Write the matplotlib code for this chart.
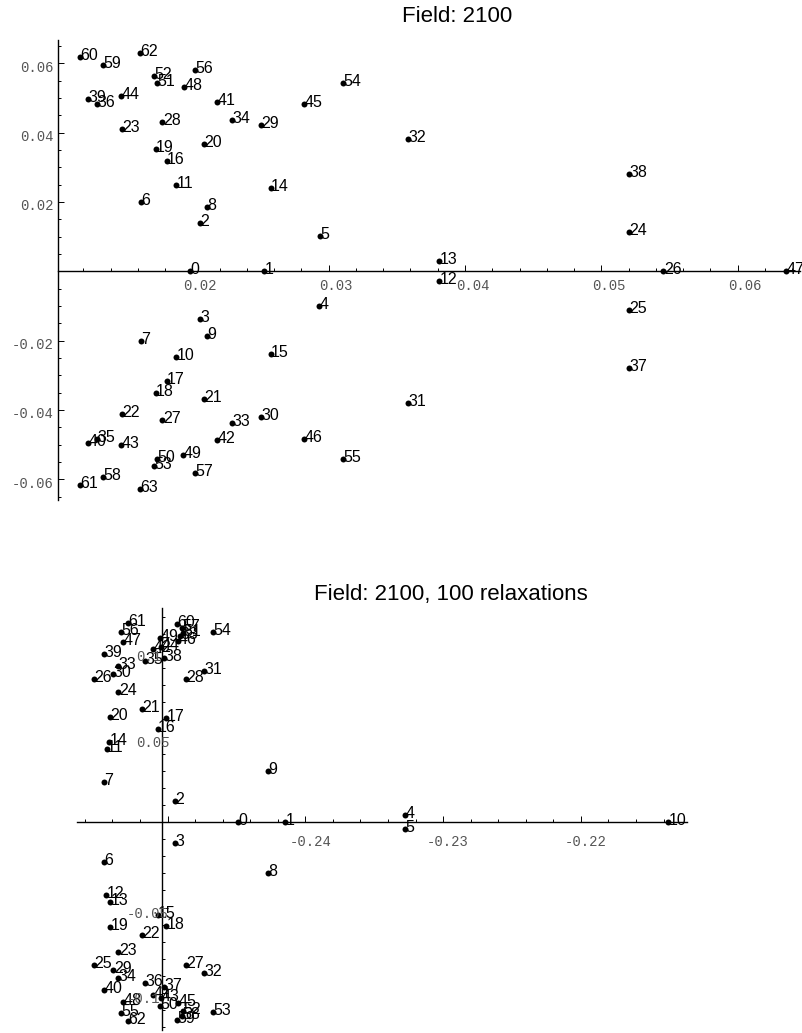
# -*- coding: utf-8 -*-

# две панели в стиле Mathematica: положения 64 точек до и после релаксации

import matplotlib
matplotlib.use('Agg')
import matplotlib.pyplot as plt
from matplotlib.ticker import MultipleLocator

# данные: панель 1 (Field: 2100)
top_x = [0.01982, 0.02528, 0.02056, 0.02056, 0.02931, 0.02936, 0.01621, 0.01621,
         0.02105, 0.02105, 0.01880, 0.01880, 0.03811, 0.03811, 0.02574, 0.02574,
         0.01811, 0.01811, 0.01731, 0.01731, 0.02085, 0.02085, 0.01481, 0.01481,
         0.05205, 0.05205, 0.05455, 0.01779, 0.01779, 0.02501, 0.02501, 0.03584,
         0.03584, 0.02288, 0.02288, 0.01298, 0.01298, 0.05205, 0.05205, 0.01236,
         0.01236, 0.02178, 0.02178, 0.01474, 0.01474, 0.02819, 0.02819, 0.06353,
         0.01938, 0.01933, 0.01738, 0.01738, 0.01720, 0.01720, 0.03107, 0.03107,
         0.02021, 0.02021, 0.01346, 0.01346, 0.01175, 0.01175, 0.01616, 0.01616]
top_y = [0.0, 0.0, 0.01384, -0.01382, -0.01006, 0.01017, 0.0201, -0.0202,
         0.01864, -0.01864, -0.0248, 0.0248, -0.00283, 0.00303, 0.02405, -0.0239,
         0.03165, -0.03165, -0.0351, 0.03523, 0.03676, -0.03673, -0.04107, 0.0411,
         0.01124, -0.01121, 0.0, -0.0428, 0.04292, 0.04217, -0.04205, -0.0381,
         0.03812, -0.04367, 0.04361, -0.0483, 0.04824, -0.02789, 0.02809, 0.04977,
         -0.04957, 0.0489, -0.04879, -0.05023, 0.05043, 0.04832, -0.0483, 0.0,
         0.05324, -0.05292, -0.05419, 0.05419, 0.05621, -0.0561, 0.05431, -0.05408,
         0.05815, -0.05812, -0.0594, 0.0594, 0.06182, -0.06179, 0.06298, -0.06295]

# данные: панель 2 (после 100 релаксаций)
bot_x = [-0.24486, -0.24147, -0.24946, -0.24946, -0.23276, -0.23276, -0.25463, -0.25463,
         -0.24269, -0.24269, -0.21366, -0.25441, -0.25446, -0.25417, -0.25422, -0.25071,
         -0.25071, -0.25011, -0.25011, -0.25417, -0.25417, -0.25187, -0.25187, -0.25357,
         -0.25357, -0.25533, -0.25533, -0.24866, -0.24866, -0.25393, -0.25393, -0.24735,
         -0.24735, -0.25357, -0.25357, -0.25161, -0.25161, -0.25026, -0.25026, -0.25461,
         -0.25461, -0.25107, -0.25107, -0.25047, -0.25047, -0.24922, -0.24922, -0.25325,
         -0.25325, -0.25054, -0.25054, -0.24890, -0.24890, -0.24668, -0.24668, -0.25340,
         -0.25340, -0.24897, -0.24897, -0.24933, -0.24933, -0.25289, -0.25289, -0.24909]
bot_y = [0.0, 0.0, 0.0121, -0.0121, 0.0043, -0.0043, -0.0234, 0.0234,
         -0.0297, 0.0297, 0.0, 0.0428, -0.0428, -0.0467, 0.0467, -0.0543,
         0.0543, 0.0607, -0.0607, -0.0612, 0.0612, 0.066, -0.066, -0.0758,
         0.0758, -0.0838, 0.0838, -0.0838, 0.0838, -0.0867, 0.0867, 0.0884,
         -0.0884, 0.0912, -0.0912, 0.0939, -0.0939, -0.0962, 0.0962, 0.0984,
         -0.0984, -0.101, 0.101, -0.1026, 0.1026, -0.1057, 0.1057, 0.1055,
         -0.1055, 0.1075, -0.1075, 0.1105, -0.1105, -0.1109, 0.1109, -0.1114,
         0.1114, 0.1135, -0.1135, -0.116, 0.116, 0.1164, -0.1164, 0.1088]

point_labels = [str(i) for i in range(64)]

top_xticks = [0.02, 0.03, 0.04, 0.05, 0.06]
top_xticklabels = ['0.02', '0.03', '0.04', '0.05', '0.06']
top_yticks = [0.06, 0.04, 0.02, -0.02, -0.04, -0.06]
top_yticklabels = ['0.06', '0.04', '0.02', '-0.02', '-0.04', '-0.06']

bot_xticks = [-0.24, -0.23, -0.22]
bot_xticklabels = ['-0.24', '-0.23', '-0.22']
bot_yticks = [0.1, 0.05, -0.05, -0.1]
bot_yticklabels = ['0.1', '0.05', '-0.05', '-0.1']

TICK_FONT = dict(family='Liberation Mono', size=10, color='#555555')
LABEL_FONT = dict(family='Liberation Sans', size=11.5, color='black')


def setup_axes(ax, x0, xlim, ylim, xmajor, xminor, ymajor, yminor):
    # оси как в Mathematica: две линии через начало координат
    ax.set_xlim(*xlim)
    ax.set_ylim(*ylim)
    ax.patch.set_visible(False)
    ax.spines['top'].set_visible(False)
    ax.spines['right'].set_visible(False)
    ax.spines['left'].set_position(('data', x0))
    ax.spines['bottom'].set_position(('data', 0.0))
    for s in ('left', 'bottom'):
        ax.spines[s].set_linewidth(1.0)
    ax.xaxis.set_major_locator(MultipleLocator(xmajor))
    ax.xaxis.set_minor_locator(MultipleLocator(xminor))
    ax.yaxis.set_major_locator(MultipleLocator(ymajor))
    ax.yaxis.set_minor_locator(MultipleLocator(yminor))
    ax.tick_params(which='both', direction='in', width=0.7,
                   labelbottom=False, labelleft=False)
    ax.tick_params(which='major', length=4.0)
    ax.tick_params(which='minor', length=2.2)


def draw_points(ax, xs, ys):
    ax.plot(xs, ys, 'o', color='black', markersize=4.3, markeredgewidth=0,
            zorder=3, clip_on=False)
    for x, y, s in zip(xs, ys, point_labels):
        ax.annotate(s, (x, y), xytext=(0.5, 1.5), textcoords='offset pixels',
                    ha='left', va='center', annotation_clip=False, **LABEL_FONT)


def tick_texts(ax, x0, xticks, xlabels, yticks, ylabels, xoff, yoff, yleft, yneg):
    for v, s in zip(xticks, xlabels):
        ax.annotate(s, (v, 0.0), xytext=xoff, textcoords='offset pixels',
                    ha='center', va='center', annotation_clip=False, **TICK_FONT)
    for v, s in zip(yticks, ylabels):
        if yleft:
            dx = yoff[0] + (yneg if s.startswith('-') else 0)
            ax.annotate(s, (x0, v), xytext=(dx, yoff[1]), textcoords='offset pixels',
                        ha='left', va='center', annotation_clip=False, **TICK_FONT)
        else:
            ax.annotate(s, (x0, v), xytext=yoff, textcoords='offset pixels',
                        ha='right', va='center', annotation_clip=False, **TICK_FONT)


W, H = 802, 1033
fig = plt.figure(figsize=(W / 100, H / 100), dpi=100)

# панель 1
ax1 = fig.add_axes([58.3 / W, 1 - 500 / H, 741.7 / W, 460 / H])
x0_top = 0.01016
setup_axes(ax1, x0_top, (x0_top, 0.06458), (-0.066, 0.0667), 0.01, 0.002, 0.02, 0.005)
draw_points(ax1, top_x, top_y)
tick_texts(ax1, x0_top, top_xticks, top_xticklabels, top_yticks, top_yticklabels,
           (7.5, -14.7), (-4.5, -4.6), False, 0)
fig.text(456.7 / W, 1 - 21.7 / H, 'Field: 2100', ha='center', va='baseline',
         family='Liberation Sans', size=16)

# панель 2
ax2 = fig.add_axes([76.7 / W, 1 - 1030 / H, 610 / W, 421.7 / H])
x0_bot = -0.2504
setup_axes(ax2, x0_bot, (-0.25659, -0.21232), (-0.1216, 0.125), 0.01, 0.002, 0.05, 0.01)
draw_points(ax2, bot_x, bot_y)
tick_texts(ax2, x0_bot, bot_xticks, bot_xticklabels, bot_yticks, bot_yticklabels,
           (5, -19.7), (-26, -6), True, -9.5)
fig.text(451 / W, 1 - 600 / H, 'Field: 2100, 100 relaxations', ha='center',
         va='baseline', family='Liberation Sans', size=16)

fig.savefig('out.png', dpi=100)
plt.close(fig)
